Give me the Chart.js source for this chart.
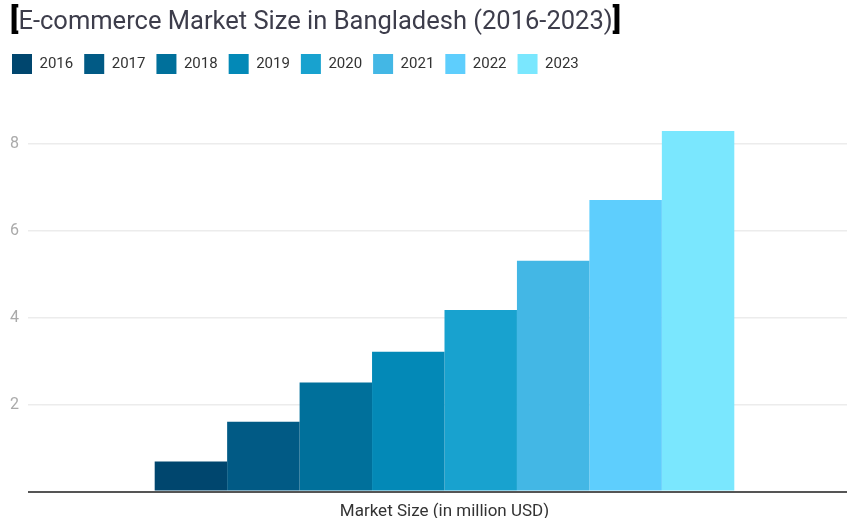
<!DOCTYPE html>
<html>
<head>
<meta charset="utf-8">
<script src="https://cdn.jsdelivr.net/npm/chart.js@4"></script>
<style>
  body { margin: 0; background: #fff; overflow: hidden; }
  #wrap { position: relative; width: 847px; height: 518px; overflow: hidden; }
  #title {
    position: absolute; left: 10px; top: 1px;
    font-family: Roboto, sans-serif; font-size: 25.5px; color: #3d3d4b;
    white-space: nowrap;
  }
  #title b { color: #000; font-size: 30px; font-weight: 900; }
</style>
</head>
<body>
<div id="wrap">
  <div id="title"><b>[</b>E-commerce Market Size in Bangladesh (2016-2023)<b>]</b></div>
  <canvas id="chart" width="847" height="523"></canvas>
</div>
<script>
// chart data
const categories = ['Market Size (in million USD)'];
const years = ['2016', '2017', '2018', '2019', '2020', '2021', '2022', '2023'];
const marketSize = [0.69, 1.61, 2.51, 3.22, 4.18, 5.31, 6.71, 8.3];
const yTicks = [0, 2, 4, 6, 8];
const colors = ['#00466e', '#015a85', '#00709b', '#0389b7', '#18a2cf', '#43b7e5', '#5ecefd', '#7ae7fe'];

const datasets = years.map((year, i) => ({
    label: year,
    data: [marketSize[i]],
    backgroundColor: colors[i],
    borderWidth: 0
}));

// extra space under the legend
const legendMargin = {
    id: 'legendMargin',
    beforeInit(chart) {
        const fit = chart.legend.fit;
        chart.legend.fit = function () {
            fit.bind(chart.legend)();
            this.height += 16.5;
        };
    }
};

const ctx = document.getElementById('chart').getContext('2d');
new Chart(ctx, {
    type: 'bar',
    data: { labels: categories, datasets: datasets },
    plugins: [legendMargin],
    options: {
        responsive: false,
        animation: false,
        layout: { padding: { top: 43, left: 1, right: 0, bottom: -9 } },
        datasets: {
            bar: { categoryPercentage: 0.72, barPercentage: 1 }
        },
        plugins: {
            legend: {
                position: 'top',
                align: 'start',
                labels: {
                    boxWidth: 20,
                    boxHeight: 20,
                    padding: 11,
                    color: '#333',
                    font: { family: 'Roboto', size: 15 }
                }
            },
            tooltip: { enabled: false }
        },
        scales: {
            x: {
                grid: { display: false, drawTicks: false },
                border: { display: false },
                ticks: { color: '#333', font: { family: 'Roboto', size: 17 }, padding: 10 }
            },
            y: {
                min: 0,
                max: 9,
                afterBuildTicks: (axis) => { axis.ticks = yTicks.map(v => ({ value: v })); },
                border: { display: false },
                grid: {
                    color: (c) => c.tick && c.tick.value === 0 ? '#555' : '#ececec',
                    lineWidth: (c) => c.tick && c.tick.value === 0 ? 2 : 1.5,
                    tickLength: 14
                },
                ticks: {
                    color: '#aaa',
                    padding: 9,
                    font: { family: 'Roboto', size: 16 },
                    callback: (v) => v === 0 ? '' : v
                }
            }
        }
    }
});
</script>
</body>
</html>
